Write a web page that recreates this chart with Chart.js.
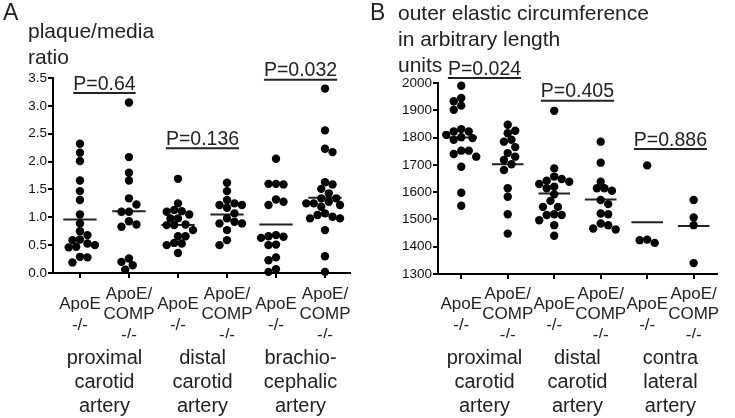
<!DOCTYPE html>
<html>
<head>
<meta charset="utf-8">
<script src="https://cdn.jsdelivr.net/npm/chart.js@4.4.0/dist/chart.umd.min.js"></script>
<style>
  html, body { margin: 0; padding: 0; background: #fff; }
  #wrap { position: relative; width: 735px; height: 418px; overflow: hidden;
          font-family: 'Liberation Sans', Arial, Helvetica, sans-serif; color: #222; }
  canvas { position: absolute; top: 0; }
  .lbl { position: absolute; font-size: 21px; line-height: 26px; white-space: nowrap; }
  .panel { position: absolute; font-size: 23px; line-height: 26px; }
</style>
</head>
<body>
<div id="wrap">
  <canvas id="chartA" width="368" height="418" style="left:0"></canvas>
  <canvas id="chartB" width="367" height="418" style="left:368px"></canvas>
  <div class="panel" style="left:3px;top:-1px">A</div>
  <div class="panel" style="left:370px;top:-1px">B</div>
  <div class="lbl" style="left:28px;top:18px">plaque/media<br>ratio</div>
  <div class="lbl" style="left:398px;top:0px">outer elastic circumference<br>in arbitrary length<br>units</div>
</div>
<script>
/* ---- data ---- */
const genotypeLabels = [['ApoE', '-/-'], ['ApoE/', 'COMP', '-/-'], ['ApoE', '-/-'], ['ApoE/', 'COMP', '-/-'], ['ApoE', '-/-'], ['ApoE/', 'COMP', '-/-']];
const arteryLabelsA = [['proximal', 'carotid', 'artery'], ['distal', 'carotid', 'artery'], ['brachio-', 'cephalic', 'artery']];
const arteryLabelsB = [['proximal', 'carotid', 'artery'], ['distal', 'carotid', 'artery'], ['contra', 'lateral', 'artery']];

// A: plaque/media ratio
const plaqueProximalApoE = [2.32, 2.16, 2.01, 1.66, 1.47, 1.31, 1.05, 0.89, 0.75, 0.68, 0.60, 0.59, 0.53, 0.47, 0.46, 0.50, 0.29, 0.28, 0.19];
const plaqueProximalComp = [3.06, 2.08, 1.80, 1.66, 1.34, 1.23, 1.10, 1.10, 0.93, 0.87, 0.83, 0.26, 0.20, 0.14, 0.06];
const plaqueDistalApoE   = [1.69, 1.25, 1.10, 1.13, 1.11, 1.05, 0.98, 0.98, 0.86, 0.87, 0.86, 0.77, 0.66, 0.66, 0.53, 0.54, 0.50, 0.36];
const plaqueDistalComp   = [1.62, 1.47, 1.22, 1.25, 1.31, 1.22, 1.17, 1.07, 0.92, 0.89, 0.98, 0.89, 0.77, 0.59, 0.50];
const plaqueBrachioApoE  = [2.05, 1.60, 1.59, 1.60, 1.28, 1.22, 1.32, 0.65, 0.66, 0.68, 0.63, 0.50, 0.51, 0.28, 0.23, 0.02, 0.07];
const plaqueBrachioComp  = [3.31, 2.56, 2.17, 2.23, 1.63, 1.51, 1.59, 1.43, 1.34, 1.34, 1.28, 1.25, 1.25, 1.22, 1.19, 1.07, 1.04, 1.01, 0.98, 0.98, 0.77, 0.30, 0.02];
const plaqueMeans = [0.96, 1.11, 0.86, 1.05, 0.87, 1.35];
const plaqueTicks = [0, 0.5, 1.0, 1.5, 2.0, 2.5, 3.0, 3.5];
const pLabelsA = ['P=0.64', 'P=0.136', 'P=0.032'];
const pLineA = [3.23, 2.24, 3.47];

// B: outer elastic circumference
const circProximalApoE = [1990, 1945, 1917, 1933, 1902, 1831, 1822, 1822, 1810, 1801, 1792, 1798, 1752, 1740, 1752, 1730, 1693, 1598, 1550];
const circProximalComp = [1847, 1825, 1816, 1792, 1785, 1765, 1743, 1730, 1718, 1702, 1681, 1614, 1583, 1519, 1448];
const circDistalApoE   = [1898, 1687, 1657, 1638, 1642, 1630, 1648, 1620, 1614, 1592, 1568, 1546, 1546, 1516, 1519, 1516, 1497, 1479, 1440];
const circDistalComp   = [1785, 1708, 1638, 1614, 1605, 1614, 1571, 1556, 1522, 1519, 1479, 1485, 1467, 1463];
const circContraApoE   = [1698, 1426, 1414, 1424];
const circContraComp   = [1571, 1507, 1479, 1340];
const circMeans = [1800, 1702, 1595, 1573, 1490, 1476];
const circTicks = [1300, 1400, 1500, 1600, 1700, 1800, 1900, 2000];
const pLabelsB = ['P=0.024', 'P=0.405', 'P=0.886'];
const pLineB = [2018, 1935, 1758];

/* ---- styling ---- */
const FONT = "'Liberation Sans', Arial, Helvetica, sans-serif";
const INK = '#222';
const DOT_R = 4.2;
const LANE = 3.75;   // px step between swarm lanes
const GAP = 7.5;     // min px distance between dot centres (dots may touch)
const MEAN_HALF = 0.34;

Chart.defaults.font.family = FONT;
Chart.defaults.color = INK;

const pValuePlugin = {
  id: 'pvalues',
  afterDatasetsDraw(chart, args, opts) {
    const { ctx, scales: { x, y } } = chart;
    ctx.save();
    ctx.font = '19.5px ' + FONT;
    ctx.fillStyle = INK;
    ctx.strokeStyle = INK;
    ctx.lineWidth = 2;
    ctx.textAlign = 'center';
    ctx.textBaseline = 'alphabetic';
    opts.labels.forEach((t, i) => {
      const cx = x.getPixelForValue(2 * i + 1.5);
      const uy = y.getPixelForValue(opts.lineY[i]);
      const w = ctx.measureText(t).width;
      ctx.fillText(t, cx, uy - 3.5);
      ctx.beginPath();
      ctx.moveTo(cx - w / 2, uy);
      ctx.lineTo(cx + w / 2, uy);
      ctx.stroke();
    });
    ctx.restore();
  }
};

function meanSegments(means) {
  const pts = [];
  means.forEach((m, i) => {
    pts.push({ x: i + 1 - MEAN_HALF, y: m }, { x: i + 1 + MEAN_HALF, y: m }, { x: i + 1.5, y: null });
  });
  return pts;
}

function axisLine() {
  return {
    grid: { display: true, drawOnChartArea: false, drawTicks: true, tickLength: 5, lineWidth: 2, color: '#000' },
    border: { display: true, width: 2, color: '#000' },
  };
}

function makeChart(id, groups, means, yTicks, arteryLabels, pLabels, pLine, dims) {
  const datasets = groups.map(vals => ({
    data: vals.map(v => ({ x: 0, y: v })),
    pointRadius: DOT_R,
    pointHoverRadius: DOT_R,
    backgroundColor: '#000',
    borderWidth: 0,
    clip: false,
  }));
  datasets.push({
    type: 'line',
    data: meanSegments(means),
    showLine: true,
    spanGaps: false,
    borderColor: INK,
    borderWidth: 2,
    pointRadius: 0,
    clip: false,
  });

  const chart = new Chart(document.getElementById(id), {
    type: 'scatter',
    data: { datasets },
    plugins: [pValuePlugin],
    options: {
      responsive: false,
      animation: false,
      events: [],
      layout: { padding: { top: dims.top, right: dims.right, left: 0, bottom: 0 } },
      plugins: {
        legend: { display: false },
        tooltip: { enabled: false },
        pvalues: { labels: pLabels, lineY: pLine },
      },
      scales: {
        x: {
          type: 'linear', position: 'bottom', weight: 0,
          min: dims.xMin, max: dims.xMax,
          ...axisLine(),
          afterBuildTicks: s => { s.ticks = genotypeLabels.map((_, i) => ({ value: i + 1 })); },
          afterFit: s => { s.height = dims.xH; },
          ticks: {
            autoSkip: false, maxRotation: 0, minRotation: 0,
            crossAlign: 'center', padding: dims.xPad,
            font: { size: 17, lineHeight: 1.22 },
            callback: (v, i) => genotypeLabels[i],
          },
        },
        x2: {
          type: 'linear', position: 'bottom', axis: 'x', weight: 1,
          min: dims.xMin, max: dims.xMax,
          grid: { display: false, drawTicks: false },
          border: { display: false },
          afterBuildTicks: s => { s.ticks = arteryLabels.map((_, i) => ({ value: 2 * i + 1.5 })); },
          afterFit: s => { s.height = 418 - dims.bottom - dims.xH; },
          ticks: {
            autoSkip: false, maxRotation: 0, minRotation: 0,
            crossAlign: 'near', padding: 9,
            font: { size: 20, lineHeight: 1.18 },
            callback: (v, i) => arteryLabels[i],
          },
        },
        y: {
          type: 'linear', min: yTicks[0], max: yTicks[yTicks.length - 1],
          ...axisLine(),
          afterBuildTicks: s => { s.ticks = yTicks.map(v => ({ value: v })); },
          afterFit: s => { s.width = dims.yW; },
          ticks: {
            padding: 1,
            color: '#111',
            font: { size: 13.5 },
            callback: v => dims.fmt(v),
          },
        },
      },
    },
  });

  // column-scatter layout: spread close values sideways in fixed lanes
  const xs = chart.scales.x, ys = chart.scales.y;
  groups.forEach((vals, g) => {
    const cx = xs.getPixelForValue(g + 1);
    const pts = vals.map(v => ({ v, py: ys.getPixelForValue(v), px: cx }));
    const placed = [];
    pts.slice().sort((a, b) => a.py - b.py).forEach((p, n) => {
      const side = n % 2 ? 1 : -1;
      for (let k = 0; k < 60; k++) {
        const px = cx + Math.ceil(k / 2) * LANE * (k % 2 ? side : -side);
        if (placed.every(q => Math.hypot(q.px - px, q.py - p.py) >= GAP)) {
          p.px = px;
          placed.push(p);
          break;
        }
      }
    });
    chart.data.datasets[g].data = pts.map(p => ({ x: xs.getValueForPixel(p.px), y: p.v }));
  });
  chart.update('none');
  return chart;
}

makeChart('chartA',
  [plaqueProximalApoE, plaqueProximalComp, plaqueDistalApoE, plaqueDistalComp, plaqueBrachioApoE, plaqueBrachioComp],
  plaqueMeans, plaqueTicks, arteryLabelsA, pLabelsA, pLineA,
  { top: 78, right: 18, bottom: 273, xH: 65, xPad: 16, yW: 53, xMin: 0.45, xMax: 6.5, fmt: v => v.toFixed(1) });

makeChart('chartB',
  [circProximalApoE, circProximalComp, circDistalApoE, circDistalComp, circContraApoE, circContraComp],
  circMeans, circTicks, arteryLabelsB, pLabelsB, pLineB,
  { top: 83, right: 10, bottom: 274, xH: 64, xPad: 15, yW: 70, xMin: 0.5, xMax: 6.5, fmt: v => String(v) });
</script>
</body>
</html>
